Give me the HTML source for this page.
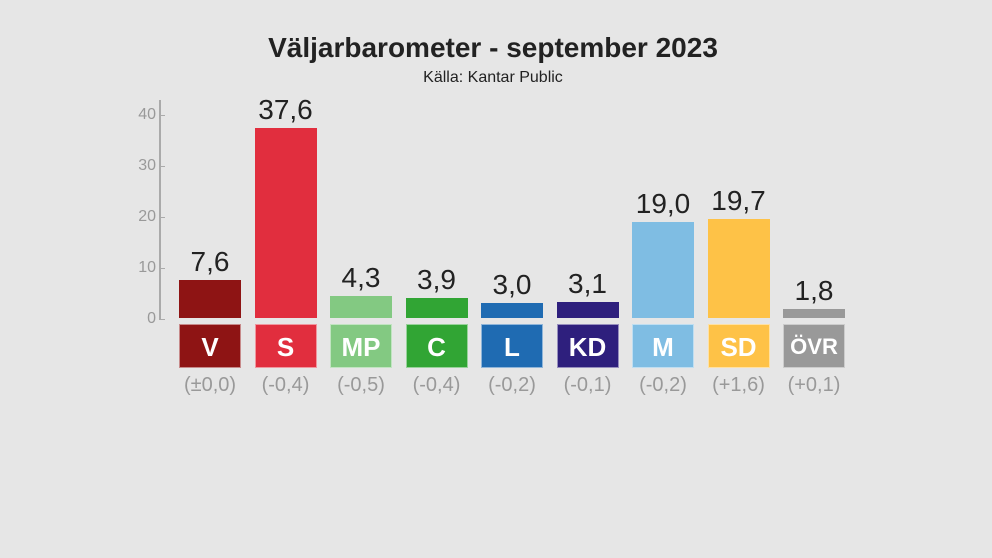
<!DOCTYPE html>
<html><head><meta charset="utf-8"><style>
body{margin:0;width:992px;height:558px;background:#e6e6e6;font-family:"Liberation Sans","DejaVu Sans",sans-serif;position:relative;overflow:hidden}
.a{position:absolute}
.t{left:0;width:986px;text-align:center}
.tk{width:40px;text-align:right;left:116px;color:#999;font-size:16px}
.v{text-align:center;width:75px;font-size:28px;color:#222}
.lb{height:44px;top:324px;width:62px;color:#fff;font-weight:bold;font-size:26px;text-align:center;line-height:44px;box-sizing:border-box;border:1px solid rgba(255,255,255,.5)}
.ch{top:374px;width:75px;text-align:center;color:#999;font-size:20px}
</style></head><body>
<div class="a t" style="top:32px;font-size:28px;font-weight:bold;color:#222">Väljarbarometer - september 2023</div>
<div class="a t" style="top:69px;font-size:16px;color:#222">Källa: Kantar Public</div>
<div class="a" style="left:159px;top:100px;width:2px;height:220px;background:#aaa"></div>
<div class="a tk" style="top:106px">40</div><div class="a" style="left:160px;top:115px;width:5px;height:1px;background:#aaa"></div>
<div class="a tk" style="top:157px">30</div><div class="a" style="left:160px;top:166px;width:5px;height:1px;background:#aaa"></div>
<div class="a tk" style="top:208px">20</div><div class="a" style="left:160px;top:217px;width:5px;height:1px;background:#aaa"></div>
<div class="a tk" style="top:259px">10</div><div class="a" style="left:160px;top:268px;width:5px;height:1px;background:#aaa"></div>
<div class="a tk" style="top:310px">0</div><div class="a" style="left:160px;top:319px;width:5px;height:1px;background:#aaa"></div>
<div id="c"></div>
<script>
var d=[["V",7.6,"#8e1414","(±0,0)"],["S",37.6,"#e12e3e","(-0,4)"],["MP",4.3,"#83c982","(-0,5)"],["C",3.9,"#31a534","(-0,4)"],["L",3.0,"#1f6bb2","(-0,2)"],["KD",3.1,"#2e1f7d","(-0,1)"],["M",19.0,"#7fbde3","(-0,2)"],["SD",19.7,"#fec247","(+1,6)"],["ÖVR",1.8,"#999999","(+0,1)"]];
var h="";d.forEach(function(e,i){var x=179+i*75.5,top=318-e[1]*5.05;
h+='<div class="a" style="left:'+x+'px;top:'+top+'px;width:62px;height:'+(318-top)+'px;background:'+e[2]+'"></div>';
h+='<div class="a v" style="left:'+(x-6.5)+'px;top:'+(top-34)+'px">'+e[1].toFixed(1).replace(".",",")+'</div>';
h+='<div class="a lb" style="left:'+x+'px;background:'+e[2]+(e[0]=="ÖVR"?';font-size:22px':'')+'">'+e[0]+'</div>';
h+='<div class="a ch" style="left:'+(x-6.5)+'px">'+e[3]+'</div>';});
document.getElementById("c").innerHTML=h;
</script>
</body></html>
